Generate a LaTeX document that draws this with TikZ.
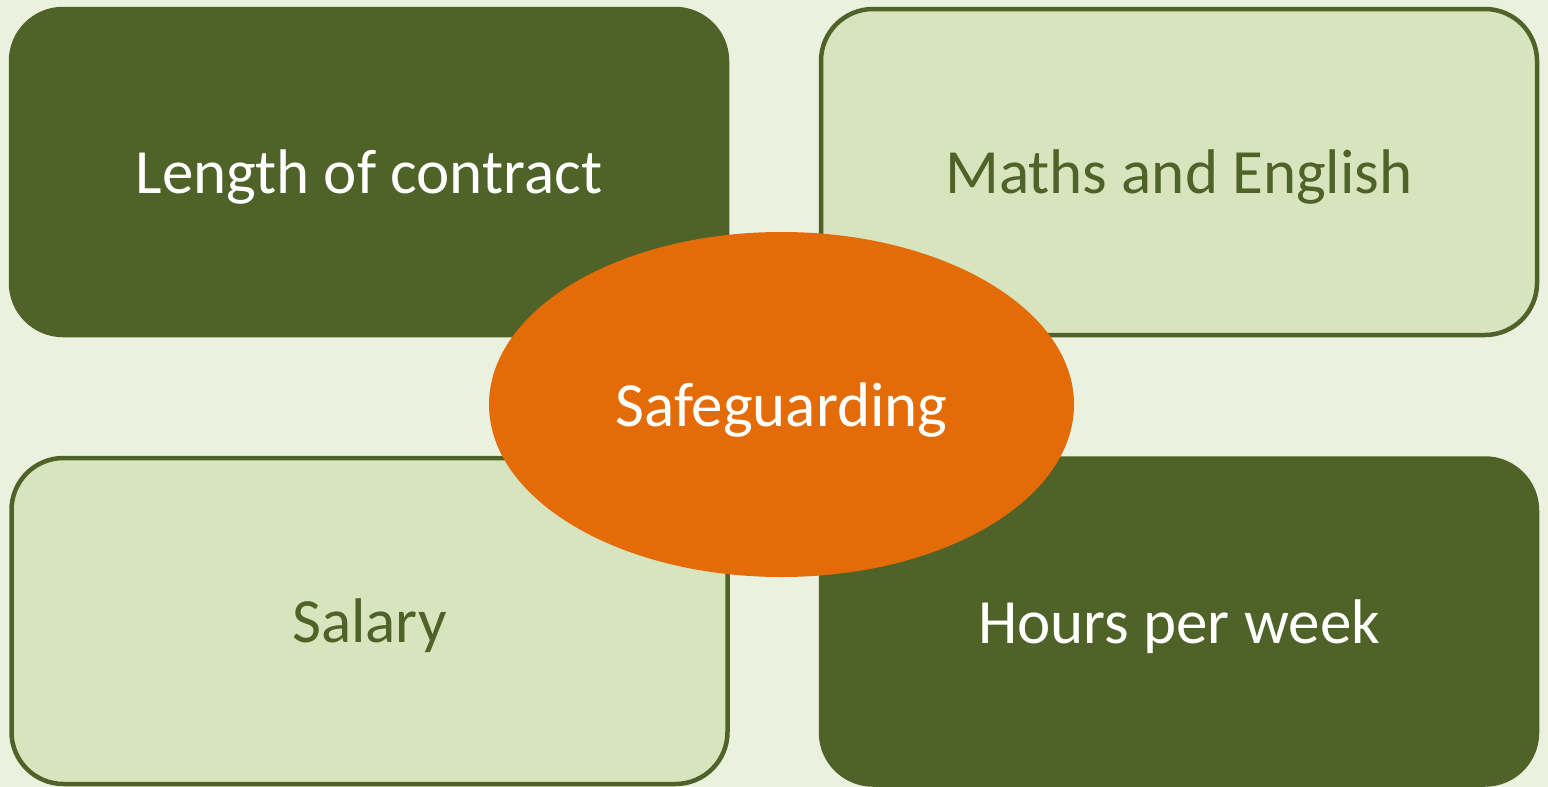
\documentclass[tikz,border=0pt]{standalone}
\usepackage{fontspec}
\setmainfont{Carlito}
\usetikzlibrary{shapes.geometric}
\definecolor{bgc}{HTML}{EBF1DE}
\definecolor{darkg}{HTML}{4F6228}
\definecolor{lightg}{HTML}{D7E4BD}
\definecolor{orangec}{HTML}{E36C09}
\tikzset{
  bigtext/.style={font=\fontsize{63}{70}\selectfont, text height=55pt, text depth=12pt},
  box/.style={rectangle, rounded corners=52pt, draw=darkg, line width=4.5pt,
    minimum width=716pt, minimum height=326pt, inner sep=0pt, bigtext},
  darkbox/.style={box, fill=darkg, text=white},
  lightbox/.style={box, fill=lightg, text=darkg},
  hub/.style={ellipse, fill=orangec, draw=none, minimum width=585pt, minimum height=345pt,
    inner sep=0pt, text=white, bigtext}
}
\begin{document}
\begin{tikzpicture}[x=1pt,y=-1pt]
\fill[bgc] (0,0) rectangle (1548,787);
\useasboundingbox (0,0) rectangle (1548,787);
\node[darkbox] (len) at (369,172) {Length of contract};
\node[lightbox] (math) at (1179,172) {Maths and English};
\node[lightbox] (sal) at (369.5,621) {Salary};
\node[darkbox] (hrs) at (1179,621.5) {Hours per week};
\node[hub] (safe) at (781.5,404.5) {Safeguarding};
\end{tikzpicture}
\end{document}
